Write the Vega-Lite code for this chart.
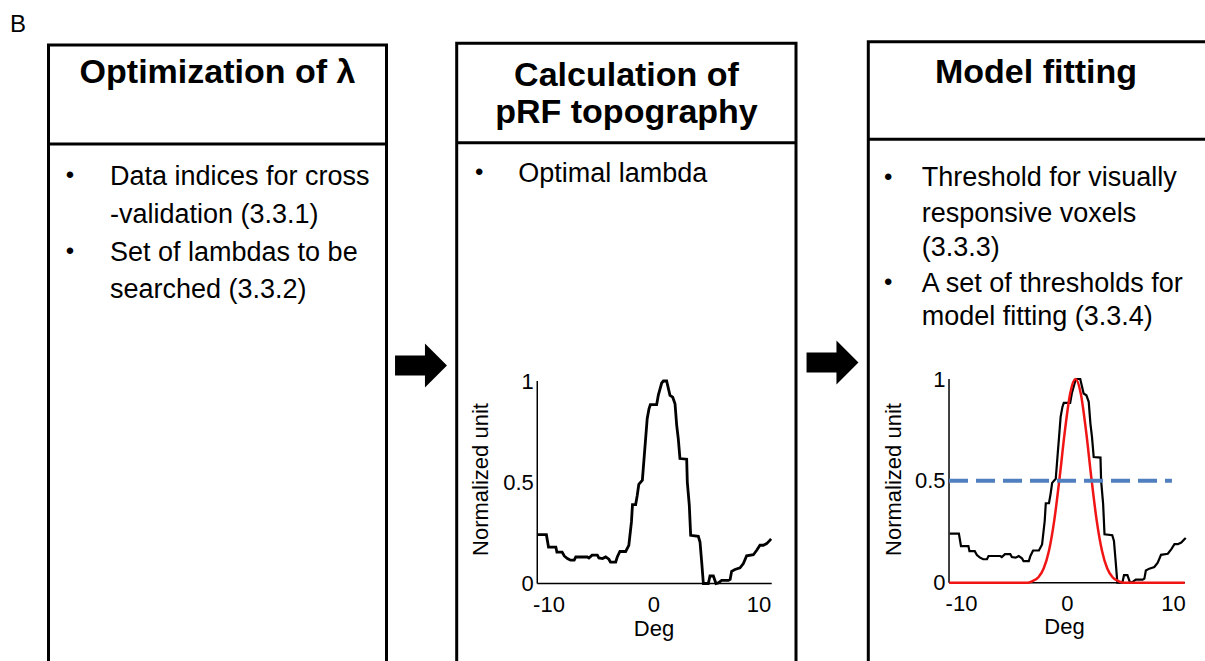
{
  "$schema": "https://vega.github.io/schema/vega-lite/v6.json",
  "width": 1205,
  "height": 661,
  "padding": 0,
  "autosize": {"type": "none"},
  "background": "white",
  "config": {"view": {"stroke": null}, "font": "Liberation Sans"},
  "datasets": {
    "boxes": [
      {"box": "Optimization", "x1": 48.5, "x2": 386.5, "y1": 45, "y2": 720, "yd": 144},
      {"box": "Calculation", "x1": 456.7, "x2": 796, "y1": 43.3, "y2": 720, "yd": 142.7},
      {"box": "Model", "x1": 868.3, "x2": 1207, "y1": 41.7, "y2": 720, "yd": 139.3}
    ],
    "arrows": [
      {"arrow": 1, "x": 421, "y": 365.5},
      {"arrow": 2, "x": 832.5, "y": 362.6}
    ],
    "texts": [
      {"role": "panel", "x": 10, "y": 32, "text": "B"},
      {"role": "title", "x": 217.5, "y": 83, "text": "Optimization of λ"},
      {"role": "title", "x": 626.5, "y": 86, "text": "Calculation of"},
      {"role": "title", "x": 626.5, "y": 123, "text": "pRF topography"},
      {"role": "title", "x": 1036, "y": 83.3, "text": "Model fitting"},
      {"role": "body", "x": 110, "y": 185, "text": "Data indices for cross"},
      {"role": "body", "x": 110, "y": 223, "text": "-validation (3.3.1)"},
      {"role": "body", "x": 110, "y": 261, "text": "Set of lambdas to be"},
      {"role": "body", "x": 110, "y": 298, "text": "searched (3.3.2)"},
      {"role": "body", "x": 518.3, "y": 182, "text": "Optimal lambda"},
      {"role": "body", "x": 921.7, "y": 186, "text": "Threshold for visually"},
      {"role": "body", "x": 921.7, "y": 221.5, "text": "responsive voxels"},
      {"role": "body", "x": 921.7, "y": 256, "text": "(3.3.3)"},
      {"role": "body", "x": 921.7, "y": 291.5, "text": "A set of thresholds for"},
      {"role": "body", "x": 921.7, "y": 325, "text": "model fitting (3.3.4)"},
      {"role": "bullet", "x": 70, "y": 183, "text": "•"},
      {"role": "bullet", "x": 70, "y": 259, "text": "•"},
      {"role": "bullet", "x": 479.3, "y": 180, "text": "•"},
      {"role": "bullet", "x": 888.3, "y": 184.5, "text": "•"},
      {"role": "bullet", "x": 888.3, "y": 289.5, "text": "•"}
    ],
    "curve": [
      {"deg": -11.06, "v": 0.241}, {"deg": -10.2, "v": 0.241}, {"deg": -10.0, "v": 0.18},
      {"deg": -9.3, "v": 0.18}, {"deg": -9.2, "v": 0.155}, {"deg": -8.7, "v": 0.155},
      {"deg": -8.5, "v": 0.136}, {"deg": -8.2, "v": 0.123}, {"deg": -7.9, "v": 0.115},
      {"deg": -7.55, "v": 0.115}, {"deg": -7.4, "v": 0.131}, {"deg": -6.3, "v": 0.131},
      {"deg": -6.15, "v": 0.126}, {"deg": -5.85, "v": 0.14}, {"deg": -5.35, "v": 0.14},
      {"deg": -5.2, "v": 0.126}, {"deg": -4.85, "v": 0.123}, {"deg": -4.55, "v": 0.131},
      {"deg": -4.25, "v": 0.12}, {"deg": -4.1, "v": 0.106}, {"deg": -3.6, "v": 0.106},
      {"deg": -3.45, "v": 0.131}, {"deg": -3.2, "v": 0.158}, {"deg": -2.65, "v": 0.158},
      {"deg": -2.35, "v": 0.188}, {"deg": -2.1, "v": 0.304}, {"deg": -2.0, "v": 0.39},
      {"deg": -1.7, "v": 0.39}, {"deg": -1.55, "v": 0.435}, {"deg": -1.4, "v": 0.49},
      {"deg": -1.06, "v": 0.51}, {"deg": -0.9, "v": 0.617}, {"deg": -0.75, "v": 0.715},
      {"deg": -0.6, "v": 0.814}, {"deg": -0.43, "v": 0.863}, {"deg": -0.3, "v": 0.883},
      {"deg": 0.3, "v": 0.883}, {"deg": 0.46, "v": 0.93}, {"deg": 0.78, "v": 0.99},
      {"deg": 0.94, "v": 1.0}, {"deg": 1.25, "v": 1.0}, {"deg": 1.41, "v": 0.965},
      {"deg": 1.57, "v": 0.929}, {"deg": 1.83, "v": 0.92}, {"deg": 2.05, "v": 0.888},
      {"deg": 2.21, "v": 0.781}, {"deg": 2.36, "v": 0.715}, {"deg": 2.52, "v": 0.617},
      {"deg": 3.16, "v": 0.614}, {"deg": 3.22, "v": 0.501}, {"deg": 3.41, "v": 0.386},
      {"deg": 3.54, "v": 0.238}, {"deg": 4.27, "v": 0.233}, {"deg": 4.43, "v": 0.205},
      {"deg": 4.59, "v": 0.106}, {"deg": 4.75, "v": 0.0}, {"deg": 5.22, "v": 0.0},
      {"deg": 5.38, "v": 0.037}, {"deg": 5.7, "v": 0.037}, {"deg": 5.95, "v": 0.0},
      {"deg": 6.17, "v": 0.003}, {"deg": 6.49, "v": 0.015}, {"deg": 7.13, "v": 0.015},
      {"deg": 7.3, "v": 0.02}, {"deg": 7.44, "v": 0.06}, {"deg": 7.76, "v": 0.069},
      {"deg": 8.24, "v": 0.077}, {"deg": 8.56, "v": 0.098}, {"deg": 8.87, "v": 0.137},
      {"deg": 9.51, "v": 0.142}, {"deg": 9.83, "v": 0.164}, {"deg": 10.14, "v": 0.189},
      {"deg": 10.46, "v": 0.189}, {"deg": 10.78, "v": 0.197}, {"deg": 11.1, "v": 0.214},
      {"deg": 11.2, "v": 0.22}
    ],
    "fit": [
      {"deg": -11.1, "v": 0}, {"deg": -3.7, "v": 0}, {"deg": -3.2, "v": 0.009},
      {"deg": -2.7, "v": 0.027}, {"deg": -2.2, "v": 0.07}, {"deg": -1.7, "v": 0.157},
      {"deg": -1.2, "v": 0.306}, {"deg": -0.7, "v": 0.514}, {"deg": -0.2, "v": 0.744},
      {"deg": 0.3, "v": 0.929}, {"deg": 0.8, "v": 1.0}, {"deg": 1.3, "v": 0.929},
      {"deg": 1.8, "v": 0.744}, {"deg": 2.3, "v": 0.514}, {"deg": 2.8, "v": 0.306},
      {"deg": 3.3, "v": 0.157}, {"deg": 3.8, "v": 0.07}, {"deg": 4.3, "v": 0.027},
      {"deg": 4.8, "v": 0.009}, {"deg": 5.3, "v": 0}, {"deg": 11.1, "v": 0}
    ],
    "axes1": [
      {"seg": "y", "deg": -11.07, "v": 0}, {"seg": "y", "deg": -11.07, "v": 1},
      {"seg": "x", "deg": -11.07, "v": 0}, {"seg": "x", "deg": 11.26, "v": 0}
    ],
    "axes2": [
      {"seg": "y", "deg": -11.13, "v": 0}, {"seg": "y", "deg": -11.13, "v": 1},
      {"seg": "x", "deg": -11.13, "v": 0}, {"seg": "x", "deg": 11.13, "v": 0}
    ],
    "threshold": [
      {"deg": -11.13, "v": 0.5}, {"deg": 9.9, "v": 0.5}
    ]
  },
  "layer": [
    {
      "layer": [
        {
          "data": {"name": "boxes"},
          "mark": {"type": "rect", "fill": null, "stroke": "black", "strokeWidth": 3},
          "encoding": {
            "x": {"field": "x1", "type": "quantitative", "scale": {"domain": [0, 1205], "nice": false, "zero": false}, "axis": null},
            "x2": {"field": "x2"},
            "y": {"field": "y1", "type": "quantitative", "scale": {"domain": [0, 661], "nice": false, "zero": false, "reverse": true}, "axis": null},
            "y2": {"field": "y2"}
          }
        },
        {
          "data": {"name": "boxes"},
          "mark": {"type": "rule", "stroke": "black", "strokeWidth": 3},
          "encoding": {
            "x": {"field": "x1", "type": "quantitative", "scale": {"domain": [0, 1205], "nice": false, "zero": false}, "axis": null},
            "x2": {"field": "x2"},
            "y": {"field": "yd", "type": "quantitative", "scale": {"domain": [0, 661], "nice": false, "zero": false, "reverse": true}, "axis": null}
          }
        },
        {
          "data": {"name": "arrows"},
          "mark": {"type": "point", "filled": true, "color": "black", "opacity": 1, "size": 1936,
                   "shape": "M-1.18,-0.4545L0.18,-0.4545L0.18,-1L1.18,0L0.18,1L0.18,0.4545L-1.18,0.4545Z"},
          "encoding": {
            "x": {"field": "x", "type": "quantitative", "scale": {"domain": [0, 1205], "nice": false, "zero": false}, "axis": null},
            "y": {"field": "y", "type": "quantitative", "scale": {"domain": [0, 661], "nice": false, "zero": false, "reverse": true}, "axis": null}
          }
        },
        {
          "data": {"name": "texts"},
          "transform": [{"filter": "datum.role === 'title'"}],
          "mark": {"type": "text", "font": "Liberation Sans", "fontWeight": "bold", "fontSize": 34, "align": "center", "baseline": "alphabetic", "color": "black"},
          "encoding": {
            "x": {"field": "x", "type": "quantitative", "scale": {"domain": [0, 1205], "nice": false, "zero": false}, "axis": null},
            "y": {"field": "y", "type": "quantitative", "scale": {"domain": [0, 661], "nice": false, "zero": false, "reverse": true}, "axis": null},
            "text": {"field": "text"}
          }
        },
        {
          "data": {"name": "texts"},
          "transform": [{"filter": "datum.role === 'body'"}],
          "mark": {"type": "text", "font": "Liberation Sans", "fontSize": 27, "align": "left", "baseline": "alphabetic", "color": "black"},
          "encoding": {
            "x": {"field": "x", "type": "quantitative", "scale": {"domain": [0, 1205], "nice": false, "zero": false}, "axis": null},
            "y": {"field": "y", "type": "quantitative", "scale": {"domain": [0, 661], "nice": false, "zero": false, "reverse": true}, "axis": null},
            "text": {"field": "text"}
          }
        },
        {
          "data": {"name": "texts"},
          "transform": [{"filter": "datum.role === 'bullet'"}],
          "mark": {"type": "text", "font": "Liberation Sans", "fontSize": 24, "align": "center", "baseline": "alphabetic", "color": "black"},
          "encoding": {
            "x": {"field": "x", "type": "quantitative", "scale": {"domain": [0, 1205], "nice": false, "zero": false}, "axis": null},
            "y": {"field": "y", "type": "quantitative", "scale": {"domain": [0, 661], "nice": false, "zero": false, "reverse": true}, "axis": null},
            "text": {"field": "text"}
          }
        },
        {
          "data": {"name": "texts"},
          "transform": [{"filter": "datum.role === 'panel'"}],
          "mark": {"type": "text", "font": "Liberation Sans", "fontSize": 24, "align": "left", "baseline": "alphabetic", "color": "black"},
          "encoding": {
            "x": {"field": "x", "type": "quantitative", "scale": {"domain": [0, 1205], "nice": false, "zero": false}, "axis": null},
            "y": {"field": "y", "type": "quantitative", "scale": {"domain": [0, 661], "nice": false, "zero": false, "reverse": true}, "axis": null},
            "text": {"field": "text"}
          }
        }
      ]
    },
    {
      "encoding": {
        "x": {
          "field": "deg", "type": "quantitative",
          "scale": {"domain": [-62.238, 52.524], "nice": false, "zero": false},
          "axis": {"orient": "bottom", "offset": -77.5, "values": [-10, 0, 10], "domain": false, "ticks": false, "grid": false,
                   "labelExpr": "'' + datum.value", "labelFont": "Liberation Sans", "labelFontSize": 22, "labelColor": "black", "labelPadding": 11,
                   "labelFlush": false, "labelOverlap": false,
                   "title": "Deg", "titleFont": "Liberation Sans", "titleFontSize": 22, "titleFontWeight": "normal", "titleColor": "black",
                   "titleX": 653.5, "titleY": 44.5, "titleAlign": "center", "titleBaseline": "middle", "titleAnchor": null}
        },
        "y": {
          "field": "v", "type": "quantitative",
          "scale": {"domain": [-0.3827, 2.8815], "nice": false, "zero": false},
          "axis": {"orient": "left", "offset": -537.3, "values": [0, 0.5, 1], "domain": false, "ticks": false, "grid": false,
                   "labelExpr": "'' + datum.value", "labelFont": "Liberation Sans", "labelFontSize": 22, "labelColor": "black", "labelPadding": 4,
                   "labelFlush": false, "labelOverlap": false,
                   "title": "Normalized unit", "titleFont": "Liberation Sans", "titleFontSize": 22, "titleFontWeight": "normal", "titleColor": "black",
                   "titleX": -57.3, "titleY": 479, "titleAngle": 270, "titleAlign": "center", "titleBaseline": "middle", "titleAnchor": null}
        }
      },
      "layer": [
        {
          "data": {"name": "axes1"},
          "mark": {"type": "line", "color": "black", "strokeWidth": 1.5},
          "encoding": {"detail": {"field": "seg", "type": "nominal"}}
        },
        {
          "data": {"name": "curve"},
          "mark": {"type": "line", "color": "black", "strokeWidth": 2.8}
        }
      ]
    },
    {
      "encoding": {
        "x": {
          "field": "deg", "type": "quantitative",
          "scale": {"domain": [-100.66, 13.02], "nice": false, "zero": false},
          "axis": {"orient": "bottom", "offset": -78.3, "values": [-10, 0, 10], "domain": false, "ticks": false, "grid": false,
                   "labelExpr": "'' + datum.value", "labelFont": "Liberation Sans", "labelFontSize": 22, "labelColor": "black", "labelPadding": 11,
                   "labelFlush": false, "labelOverlap": false,
                   "title": "Deg", "titleFont": "Liberation Sans", "titleFontSize": 22, "titleFontWeight": "normal", "titleColor": "black",
                   "titleX": 1064, "titleY": 44, "titleAlign": "center", "titleBaseline": "middle", "titleAnchor": null}
        },
        "y": {
          "field": "v", "type": "quantitative",
          "scale": {"domain": [-0.3844, 2.8606], "nice": false, "zero": false},
          "axis": {"orient": "left", "offset": -949, "values": [0, 0.5, 1], "domain": false, "ticks": false, "grid": false,
                   "labelExpr": "'' + datum.value", "labelFont": "Liberation Sans", "labelFontSize": 22, "labelColor": "black", "labelPadding": 4,
                   "labelFlush": false, "labelOverlap": false,
                   "title": "Normalized unit", "titleFont": "Liberation Sans", "titleFontSize": 22, "titleFontWeight": "normal", "titleColor": "black",
                   "titleX": -55.7, "titleY": 479, "titleAngle": 270, "titleAlign": "center", "titleBaseline": "middle", "titleAnchor": null}
        }
      },
      "layer": [
        {
          "data": {"name": "axes2"},
          "mark": {"type": "line", "color": "black", "strokeWidth": 1.5},
          "encoding": {"detail": {"field": "seg", "type": "nominal"}}
        },
        {
          "data": {"name": "curve"},
          "mark": {"type": "line", "color": "black", "strokeWidth": 2.2}
        },
        {
          "data": {"name": "fit"},
          "mark": {"type": "line", "color": "#f01414", "strokeWidth": 2.5, "interpolate": "monotone"}
        },
        {
          "data": {"name": "threshold"},
          "mark": {"type": "line", "color": "#4f7fbf", "strokeWidth": 4, "strokeDash": [19, 8]}
        }
      ]
    }
  ],
  "resolve": {
    "scale": {"x": "independent", "y": "independent"},
    "axis": {"x": "independent", "y": "independent"}
  }
}
